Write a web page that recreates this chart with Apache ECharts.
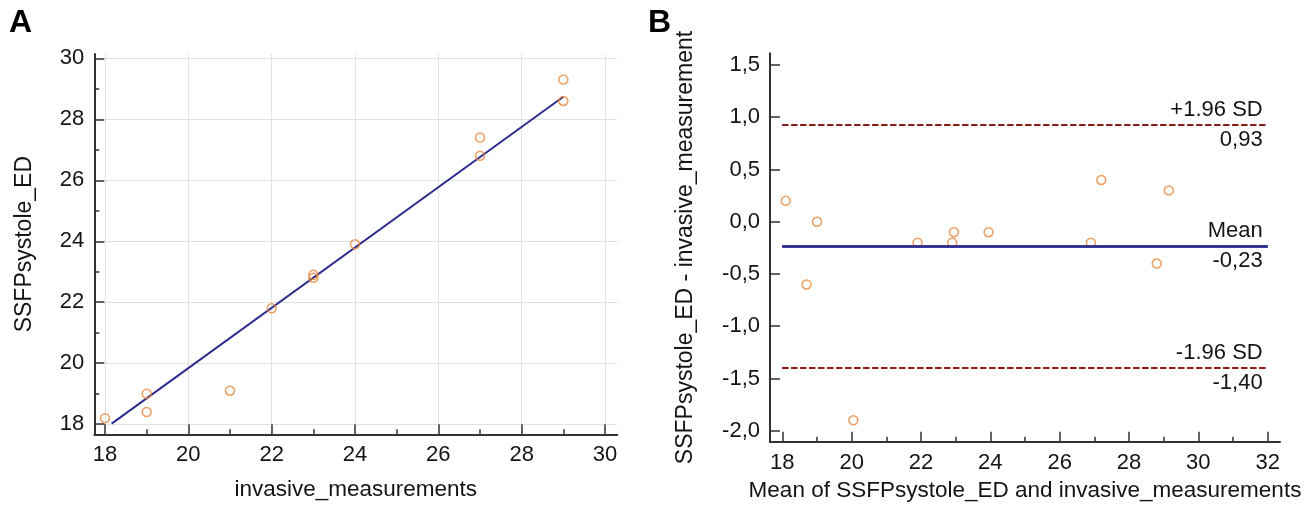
<!DOCTYPE html>
<html><head><meta charset="utf-8">
<script src="https://cdn.jsdelivr.net/npm/echarts@6/dist/echarts.min.js"></script>
<style>html,body{margin:0;padding:0;background:#fff}#c{width:1311px;height:507px}</style>
</head><body><div id="c"></div>
<script>
// ---------- Panel A data ----------
const invasive = [18, 19, 19, 21, 22, 23, 23, 24, 27, 27, 29, 29];
const ssfp     = [18.2, 19.0, 18.4, 19.1, 21.8, 22.9, 22.8, 23.9, 27.4, 26.8, 29.3, 28.6];
const fitX = [18.16, 29.0];
const fitY = [18.02, 28.74];
const ticksA = [18, 20, 22, 24, 26, 28, 30];
const minorA = [19, 21, 23, 25, 27, 29];
// ---------- Panel B data ----------
const meanB = [18.1, 18.7, 19.0, 20.05, 21.9, 22.9, 22.95, 23.95, 26.9, 27.2, 28.8, 29.15];
const diffB = [0.2, -0.6, 0.0, -1.9, -0.2, -0.2, -0.1, -0.1, -0.2, 0.4, -0.4, 0.3];
const limitNames  = ['+1.96 SD', 'Mean', '-1.96 SD'];
const limitValues = [0.93, -0.23, -1.40];
const limitSpan = [18, 32];
const xTicksB = [18, 20, 22, 24, 26, 28, 30, 32];
const xMinorB = [19, 21, 23, 25, 27, 29, 31];
const yTicksB = [-2, -1.5, -1, -0.5, 0, 0.5, 1, 1.5];

const FONT = '"Liberation Sans", Arial, sans-serif';
const AX = '#333333';
const TXT = '#141414';
const ORANGE = '#E8873A';

function mainAxis(gridIndex, pos, min, max, ticks, fmt, extra) {
  return Object.assign({
    type: 'value', gridIndex, position: pos, min, max,
    axisLine: { show: true, onZero: false, lineStyle: { color: AX, width: 2 } },
    axisTick: { show: true, inside: true, length: 10, customValues: ticks, lineStyle: { color: AX, width: 1.5 } },
    axisLabel: { show: true, customValues: ticks, margin: 10, fontSize: 22, color: TXT, fontFamily: FONT, formatter: fmt },
    splitLine: { show: false },
    nameLocation: 'middle',
    nameTextStyle: { fontSize: 22.5, color: TXT, fontFamily: FONT }
  }, extra || {});
}
function minorAxis(gridIndex, pos, min, max, ticks) {
  return {
    type: 'value', gridIndex, position: pos, offset: 0, min, max,
    axisLine: { show: false, onZero: false },
    axisTick: { show: true, inside: true, length: 5, customValues: ticks, lineStyle: { color: AX, width: 1.5 } },
    axisLabel: { show: false },
    splitLine: { show: false }
  };
}
const intFmt = v => String(Math.round(v));
const commaFmt = v => v.toFixed(1).replace('.', ',');
const gridSplit = { show: true, lineStyle: { color: '#e2e2e2', width: 1 } };

const mlData = [];
limitValues.forEach((v, i) => {
  const isMean = limitNames[i] === 'Mean';
  const ls = isMean ? { color: '#2e3192', width: 2.5, type: 'solid' }
                    : { color: '#8b1a1a', width: 2, type: [6, 3] };
  const lblBase = { show: true, fontSize: 22, color: TXT, fontFamily: FONT, distance: [5, 4] };
  const topLbl = Object.assign({}, lblBase, { position: 'insideEndTop', formatter: limitNames[i] });
  const botLbl = Object.assign({}, lblBase, { position: 'insideEndBottom', formatter: v.toFixed(2).replace('.', ',') });
  mlData.push([{ coord: [limitSpan[0], v], lineStyle: ls, label: topLbl }, { coord: [limitSpan[1], v], lineStyle: ls, label: topLbl }]);
  mlData.push([{ coord: [limitSpan[0], v], lineStyle: ls, label: botLbl }, { coord: [limitSpan[1], v], lineStyle: ls, label: botLbl }]);
});

const option = {
  animation: false,
  backgroundColor: '#ffffff',
  textStyle: { fontFamily: FONT },
  grid: [
    { left: 94.3, top: 54, width: 523, height: 380.3, outerBoundsMode: 'none', containLabel: false },
    { left: 770, top: 53.3, width: 510, height: 388.4, outerBoundsMode: 'none', containLabel: false }
  ],
  xAxis: [
    mainAxis(0, 'bottom', 17.743, 30.295, ticksA, intFmt, { name: 'invasive_measurements', nameGap: 44, splitLine: gridSplit }),
    minorAxis(0, 'bottom', 17.743, 30.295, minorA),
    mainAxis(1, 'bottom', 17.645, 32.355, xTicksB, intFmt, { name: 'Mean of SSFPsystole_ED and invasive_measurements', nameGap: 38 }),
    minorAxis(1, 'bottom', 17.645, 32.355, xMinorB)
  ],
  yAxis: [
    mainAxis(0, 'left', 17.67, 30.14, ticksA, intFmt, { name: 'SSFPsystole_ED', nameGap: 58, splitLine: gridSplit,
      nameTextStyle: { fontSize: 23, color: TXT, fontFamily: FONT } }),
    minorAxis(0, 'left', 17.67, 30.14, minorA),
    mainAxis(1, 'left', -2.105, 1.612, yTicksB, commaFmt, { name: 'SSFPsystole_ED - invasive_measurement', nameGap: 73,
      nameTextStyle: { fontSize: 23, color: TXT, fontFamily: FONT } })
  ],
  graphic: [
    { type: 'text', left: 9, top: 7, style: { text: 'A', font: 'bold 32px ' + FONT, fill: '#000' } },
    { type: 'text', left: 648, top: 7, style: { text: 'B', font: 'bold 32px ' + FONT, fill: '#000' } }
  ],
  series: [
    {
      type: 'line', xAxisIndex: 0, yAxisIndex: 0, z: 2,
      data: fitX.map((x, i) => [x, fitY[i]]),
      showSymbol: false, symbol: 'none',
      lineStyle: { color: '#2d2d8f', width: 2 }, silent: true
    },
    {
      type: 'scatter', xAxisIndex: 0, yAxisIndex: 0, z: 3,
      data: invasive.map((x, i) => [x, ssfp[i]]),
      symbol: 'circle', symbolSize: 9,
      itemStyle: { color: 'rgba(0,0,0,0)', borderColor: ORANGE, borderWidth: 1.5 }
    },
    {
      type: 'scatter', xAxisIndex: 2, yAxisIndex: 2, z: 3,
      data: meanB.map((x, i) => [x, diffB[i]]),
      symbol: 'circle', symbolSize: 9,
      itemStyle: { color: 'rgba(0,0,0,0)', borderColor: ORANGE, borderWidth: 1.5 },
      markLine: { silent: true, symbol: ['none', 'none'], animation: false, data: mlData }
    }
  ]
};
const chart = echarts.init(document.getElementById('c'), null, { renderer: 'canvas' });
chart.setOption(option);
</script>
</body></html>
